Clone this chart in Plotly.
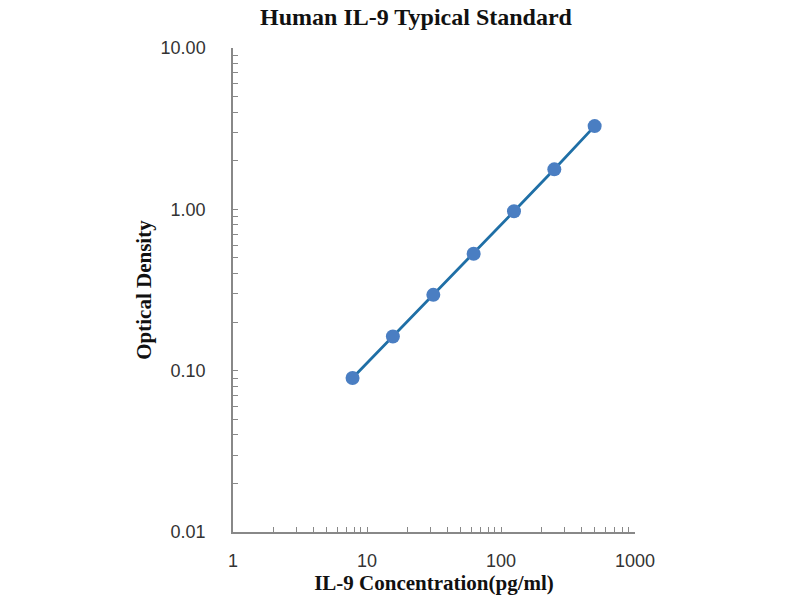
import plotly.graph_objects as go

# standard curve values
concentration = [7.8, 15.6, 31.25, 62.5, 125, 250, 500]
optical_density = [0.090, 0.163, 0.295, 0.531, 0.972, 1.77, 3.28]

x_decades = [1, 10, 100, 1000]
x_labels = ["1", "10", "100", "1000"]
y_decades = [0.01, 0.1, 1, 10]
y_labels = ["0.01", "0.10", "1.00", "10.00"]


def log_ticks(decades, labels):
    # every 1..9 step inside each decade, only the decades get a label
    vals, text = [], []
    for i, d in enumerate(decades):
        if i == len(decades) - 1:
            vals.append(d)
            text.append(labels[i])
            break
        for k in range(1, 10):
            vals.append(d * k)
            text.append(labels[i] if k == 1 else "")
    return vals, text


xvals, xtext = log_ticks(x_decades, x_labels)
yvals, ytext = log_ticks(y_decades, y_labels)

fig = go.Figure()
fig.add_trace(go.Scatter(
    x=concentration, y=optical_density, mode="lines",
    line=dict(color="#1f6fa6", width=2.8), showlegend=False))
fig.add_trace(go.Scatter(
    x=concentration, y=optical_density, mode="markers",
    marker=dict(color="#4a7ec2", size=14), showlegend=False))

axis_font = dict(family="Liberation Sans, Arial", size=18, color="#333333")
title_font = dict(family="Liberation Serif, Times New Roman", size=21, color="#111111")

fig.update_xaxes(
    type="log", range=[0, 3], tickvals=xvals, ticktext=xtext,
    ticks="inside", ticklen=5, tickcolor="#888888", tickwidth=1,
    showline=True, linecolor="#888888", linewidth=1.5,
    showgrid=False, zeroline=False, tickfont=axis_font, ticklabelstandoff=12,
    title=dict(text="<b>IL-9 Concentration(pg/ml)</b>", font=title_font, standoff=2))
fig.update_yaxes(
    type="log", range=[-2, 1], tickvals=yvals, ticktext=ytext,
    ticks="inside", ticklen=5, tickcolor="#888888", tickwidth=1,
    showline=True, linecolor="#888888", linewidth=1.5,
    showgrid=False, zeroline=False, tickfont=axis_font, ticklabelstandoff=22,
    title=dict(text="<b>Optical Density</b>", font=title_font, standoff=3))

# the page puts the figure 8px in from the top left corner
fig.update_layout(
    width=800, height=600,
    margin=dict(l=225, r=173, t=40, b=76),
    plot_bgcolor="white", paper_bgcolor="white",
    title=dict(text="<b>Human IL-9 Typical Standard</b>", x=0.51, xanchor="center",
               y=0.999, yanchor="top",
               font=dict(family="Liberation Serif, Times New Roman", size=24, color="#111111")),
)

fig.write_html("out.html")
